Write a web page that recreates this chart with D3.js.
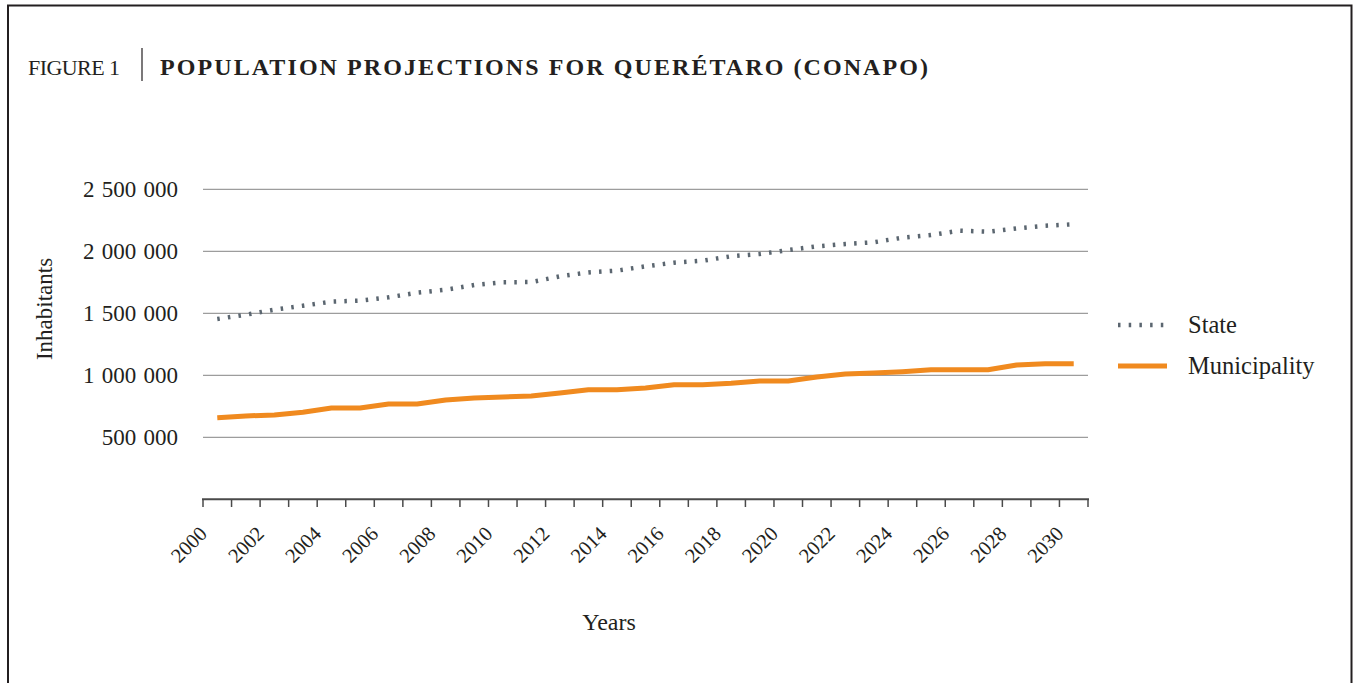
<!DOCTYPE html>
<html>
<head>
<meta charset="utf-8">
<script src="https://cdn.jsdelivr.net/npm/d3@7"></script>
<style>
  body { margin: 0; background: #fff; }
  svg text { font-family: "Liberation Serif", "DejaVu Serif", serif; fill: #231f20; }
</style>
</head>
<body>
<svg id="chart" width="1353" height="683"></svg>
<script>
// years on the category axis
const years = d3.range(2000, 2031).map(String);
// CONAPO projections
const stateValues = [1454000, 1489000, 1529000, 1561000, 1594000, 1602000, 1629000, 1666000, 1690000, 1728000,
  1750000, 1752000, 1798000, 1830000, 1844000, 1879000, 1908000, 1924000, 1960000, 1978000,
  2010000, 2040000, 2059000, 2073000, 2110000, 2131000, 2166000, 2158000, 2185000, 2206000, 2218000];
const municipalityValues = [658000, 672000, 680000, 702000, 736000, 736000, 768000, 768000, 801000, 817000,
  825000, 833000, 857000, 884000, 884000, 898000, 924000, 924000, 935000, 954000,
  954000, 986000, 1010000, 1018000, 1029000, 1045000, 1045000, 1045000, 1083000, 1094000, 1094000];
const yTicks = [500000, 1000000, 1500000, 2000000, 2500000];
const seriesNames = ["State", "Municipality"];

const svg = d3.select("#chart");

// frame around the figure
svg.append("path")
   .attr("d", "M8,690 L8,5.5 L1351.5,5.5 L1351.5,690")
   .attr("fill", "none")
   .attr("stroke", "#231f20")
   .attr("stroke-width", 2);

// title
svg.append("text")
   .attr("x", 28).attr("y", 74.5)
   .attr("textLength", 92)
   .attr("lengthAdjust", "spacing")
   .style("font-size", "22px")
   .text("FIGURE 1");
svg.append("line")
   .attr("x1", 142).attr("x2", 142)
   .attr("y1", 48).attr("y2", 81)
   .attr("stroke", "#231f20").attr("stroke-width", 1.2);
svg.append("text")
   .attr("x", 160).attr("y", 74.5)
   .attr("textLength", 768)
   .attr("lengthAdjust", "spacing")
   .style("font-size", "24px")
   .style("font-weight", "bold")
   .text("POPULATION PROJECTIONS FOR QUERÉTARO (CONAPO)");

const x = d3.scaleBand().domain(years).range([203, 1088]).padding(0);
const y = d3.scaleLinear().domain([0, 2500000]).range([499.3, 189.3]);
const cx = d => x(d) + x.bandwidth() / 2;

// gridlines
svg.selectAll(".grid")
   .data(yTicks)
   .enter()
   .append("line")
   .attr("class", "grid")
   .attr("x1", 203).attr("x2", 1088)
   .attr("y1", d => y(d)).attr("y2", d => y(d))
   .attr("stroke", "#9d9d9d")
   .attr("stroke-width", 1.3);

// y tick labels
svg.selectAll(".ylab")
   .data(yTicks)
   .enter()
   .append("text")
   .attr("class", "ylab")
   .attr("x", 178)
   .attr("y", d => y(d))
   .attr("dy", "0.35em")
   .attr("text-anchor", "end")
   .style("font-size", "23px")
   .style("word-spacing", "1.5px")
   .text(d => d3.format(",")(d).replace(/,/g, " "));

// x axis: line + ticks between categories
svg.append("line")
   .attr("x1", 202).attr("x2", 1089)
   .attr("y1", 499.3).attr("y2", 499.3)
   .attr("stroke", "#4a4a4a").attr("stroke-width", 2);
const edges = years.map(d => x(d)).concat([x.range()[1]]);
svg.selectAll(".xtick")
   .data(edges)
   .enter()
   .append("line")
   .attr("class", "xtick")
   .attr("x1", d => d).attr("x2", d => d)
   .attr("y1", 499.3).attr("y2", 507)
   .attr("stroke", "#4a4a4a").attr("stroke-width", 1.5);

// x tick labels, every other year
svg.selectAll(".xlab")
   .data(years.filter((d, i) => i % 2 === 0))
   .enter()
   .append("text")
   .attr("class", "xlab")
   .attr("transform", d => `translate(${cx(d) - 9},${535}) rotate(-45)`)
   .attr("text-anchor", "end")
   .style("font-size", "20.5px")
   .text(d => d);

// axis titles
svg.append("text")
   .attr("transform", "translate(51.5,309) rotate(-90)")
   .attr("text-anchor", "middle")
   .style("font-size", "23px")
   .text("Inhabitants");
svg.append("text")
   .attr("x", 609).attr("y", 630)
   .attr("text-anchor", "middle")
   .style("font-size", "24px")
   .text("Years");

// lines
const line = d3.line().x((d, i) => cx(years[i])).y(d => y(d));

svg.append("path")
   .datum(stateValues)
   .attr("d", line)
   .attr("fill", "none")
   .attr("stroke", "#5b6670")
   .attr("stroke-width", 4.5)
   .attr("stroke-dasharray", "2.5 8.2");

svg.append("path")
   .datum(municipalityValues)
   .attr("d", line)
   .attr("fill", "none")
   .attr("stroke", "#f08a1f")
   .attr("stroke-width", 5)
   .attr("stroke-linejoin", "round");

// legend
const legend = svg.selectAll(".legend")
   .data(seriesNames)
   .enter()
   .append("g")
   .attr("class", "legend")
   .attr("transform", (d, i) => `translate(1118,${325 + i * 41})`);

legend.append("line")
   .attr("x1", 0).attr("x2", 49)
   .attr("y1", 0).attr("y2", 0)
   .attr("stroke", d => d === "State" ? "#5b6670" : "#f08a1f")
   .attr("stroke-width", d => d === "State" ? 4.5 : 5)
   .attr("stroke-dasharray", d => d === "State" ? "2.5 8.2" : null);

legend.append("text")
   .attr("x", 70)
   .attr("y", 0)
   .attr("dy", "0.33em")
   .style("font-size", "24.5px")
   .text(d => d);
</script>
</body>
</html>
